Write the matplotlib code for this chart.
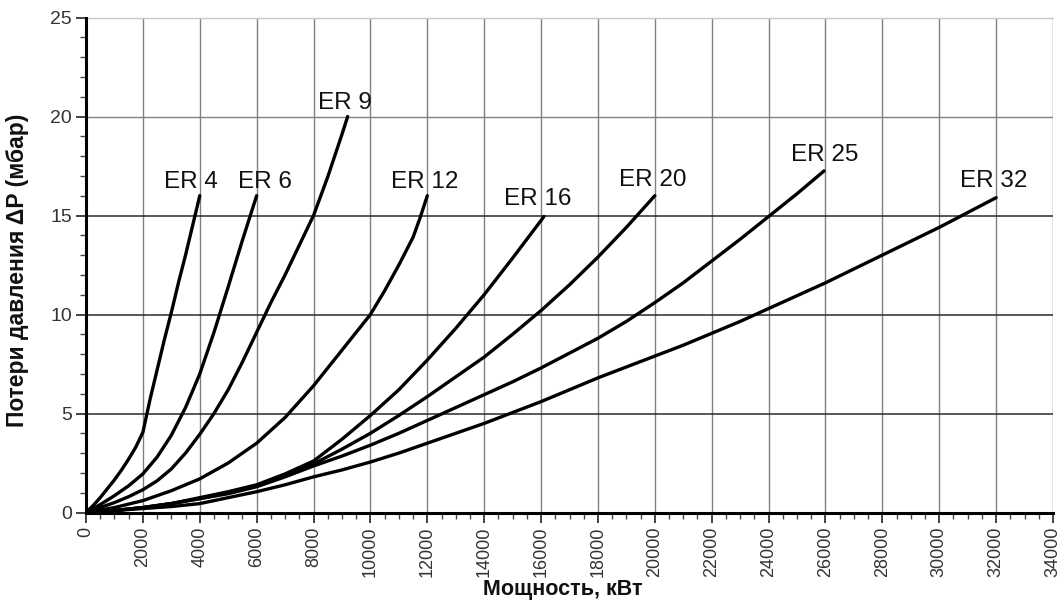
import matplotlib
matplotlib.use("Agg")
import matplotlib.pyplot as plt
from matplotlib.ticker import MultipleLocator

plt.rcParams['font.family'] = ['Liberation Sans', 'DejaVu Sans']

# Data (power kW, pressure loss mbar)
er4_x = [0, 250, 500, 750, 1000, 1250, 1500, 1750, 2000, 2250, 2500, 2750, 3000, 3250, 3500, 3750, 4000]
er4_y = [0, 0.35, 0.75, 1.2, 1.65, 2.15, 2.7, 3.3, 4.05, 5.7, 7.2, 8.7, 10.1, 11.6, 13.0, 14.5, 16.0]

er6_x = [0, 500, 1000, 1500, 2000, 2500, 3000, 3500, 4000, 4500, 5000, 5500, 6000]
er6_y = [0, 0.4, 0.85, 1.35, 1.95, 2.8, 3.9, 5.3, 7.0, 9.1, 11.4, 13.75, 16.0]

er9_x = [0, 500, 1000, 1500, 2000, 2500, 3000, 3500, 4000, 4500, 5000, 5500, 6000, 6500, 7000, 7500, 8000, 8500, 9000, 9200]
er9_y = [0, 0.25, 0.5, 0.8, 1.15, 1.6, 2.2, 3.0, 3.95, 5.0, 6.2, 7.6, 9.1, 10.6, 12.0, 13.5, 15.0, 16.95, 19.1, 20.0]

er12_x = [0, 1000, 2000, 3000, 4000, 5000, 6000, 7000, 8000, 8500, 9000, 9500, 10000, 10500, 11000, 11500, 11750, 12000]
er12_y = [0, 0.25, 0.6, 1.1, 1.7, 2.5, 3.5, 4.8, 6.4, 7.3, 8.2, 9.1, 10.0, 11.2, 12.5, 13.9, 14.9, 16.0]

er16_x = [0, 1000, 2000, 3000, 4000, 5000, 6000, 7000, 8000, 9000, 10000, 11000, 12000, 13000, 14000, 15000, 16000, 16100]
er16_y = [0, 0.1, 0.25, 0.45, 0.75, 1.05, 1.4, 1.95, 2.6, 3.7, 4.9, 6.2, 7.7, 9.3, 11.0, 12.85, 14.75, 14.95]

er20_x = [0, 1000, 2000, 3000, 4000, 5000, 6000, 7000, 8000, 9000, 10000, 11000, 12000, 13000, 14000, 15000, 16000, 17000, 18000, 19000, 20000]
er20_y = [0, 0.1, 0.25, 0.45, 0.7, 1.0, 1.35, 1.85, 2.45, 3.2, 4.0, 4.9, 5.85, 6.85, 7.85, 9.0, 10.2, 11.5, 12.9, 14.4, 16.0]

er25_x = [0, 1000, 2000, 3000, 4000, 5000, 6000, 7000, 8000, 9000, 10000, 11000, 12000, 13000, 14000, 15000, 16000, 17000, 18000, 19000, 20000, 21000, 22000, 23000, 24000, 25000, 25950]
er25_y = [0, 0.1, 0.25, 0.45, 0.7, 0.95, 1.3, 1.8, 2.35, 2.85, 3.4, 4.0, 4.65, 5.3, 5.95, 6.6, 7.3, 8.05, 8.8, 9.65, 10.6, 11.6, 12.7, 13.8, 14.95, 16.1, 17.25]

er32_x = [0, 1000, 2000, 3000, 4000, 5000, 6000, 7000, 8000, 9000, 10000, 11000, 12000, 13000, 14000, 15000, 16000, 17000, 18000, 19000, 20000, 21000, 22000, 23000, 24000, 25000, 26000, 27000, 28000, 29000, 30000, 31000, 32000]
er32_y = [0, 0.1, 0.2, 0.3, 0.45, 0.75, 1.05, 1.4, 1.8, 2.15, 2.55, 3.0, 3.5, 4.0, 4.5, 5.05, 5.6, 6.2, 6.8, 7.35, 7.9, 8.45, 9.05, 9.65, 10.3, 10.95, 11.6, 12.3, 13.0, 13.7, 14.4, 15.15, 15.9]

series = [("ER 4", er4_x, er4_y), ("ER 6", er6_x, er6_y), ("ER 9", er9_x, er9_y),
          ("ER 12", er12_x, er12_y), ("ER 16", er16_x, er16_y), ("ER 20", er20_x, er20_y),
          ("ER 25", er25_x, er25_y), ("ER 32", er32_x, er32_y)]

label_names = ["ER 4", "ER 6", "ER 9", "ER 12", "ER 16", "ER 20", "ER 25", "ER 32"]
label_x = [3680, 6290, 9120, 11910, 15890, 19930, 25955, 31920]
label_y = [16.7, 16.7, 20.7, 16.7, 15.85, 16.8, 18.05, 16.75]

x_ticks = list(range(0, 34001, 2000))
y_ticks = [0, 5, 10, 15, 20, 25]

W, H = 1064, 612
fig = plt.figure(figsize=(W/100, H/100), dpi=100)
x0p, x1p, y0p, y1p = 86, 1053, 512.5, 17.5
ax = fig.add_axes([x0p/W, 1 - y0p/H, (x1p-x0p)/W, (y0p-y1p)/H])

ax.set_xlim(0, 34000)
ax.set_ylim(0, 25)

# grid
for xv in x_ticks[1:]:
    ax.axvline(xv, color='#808080', lw=1.0, zorder=1)
for yv in [5, 10, 15]:
    ax.axhline(yv, color='#2a2a2a', lw=1.1, zorder=1)
ax.axhline(20, color='#808080', lw=1.0, zorder=1)
ax.axhline(25, color='#c8c8c8', lw=1.0, zorder=1, clip_on=False)

for name, xs, ys in series:
    ax.plot(xs, ys, color='black', lw=2.4, solid_capstyle='round', solid_joinstyle='round', zorder=3)

for n, lx, ly in zip(label_names, label_x, label_y):
    ax.text(lx, ly, n, ha='center', va='center', fontsize=17.5, color='#111111', zorder=4)

ax.set_xticks(x_ticks)
ax.set_xticklabels([str(v) for v in x_ticks], rotation=90, fontsize=13, color='#333333')
ax.set_yticks(y_ticks)
ax.set_yticklabels([str(v) for v in y_ticks], fontsize=14, color='#333333')
ax.xaxis.set_minor_locator(MultipleLocator(500))
ax.yaxis.set_minor_locator(MultipleLocator(1))
ax.tick_params(axis='both', which='major', direction='out', length=7, width=1.2, color='#222222', pad=3)
ax.tick_params(axis='both', which='minor', direction='out', length=4, width=1.0, color='#444444')

for s in ['top', 'right']:
    ax.spines[s].set_visible(False)
ax.spines['left'].set_linewidth(2.2)
ax.spines['bottom'].set_linewidth(2.2)

fig.text(563/W, 1 - 590/H, "Мощность, кВт", fontsize=15.5, fontweight='bold',
         ha='center', va='center', color='#111111')
fig.text(18/W, 1 - 270/H, "Потери давления ΔP (мбар)", fontsize=16.5, fontweight='bold',
         ha='center', va='center', rotation=90, color='#111111')

fig.savefig("out.png", dpi=100)
